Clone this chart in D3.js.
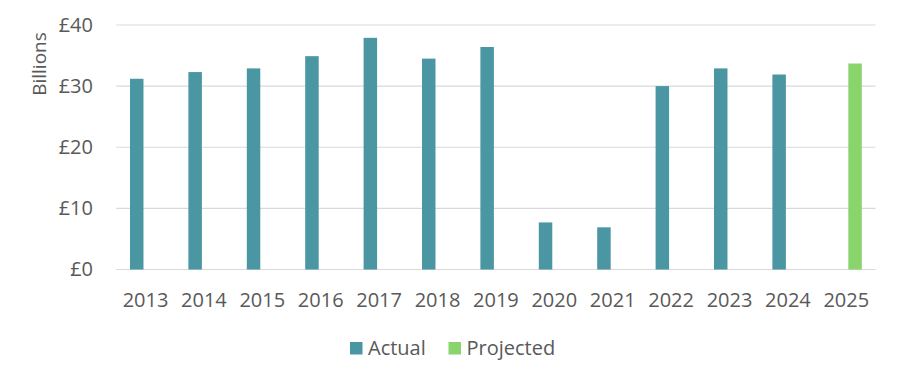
<!DOCTYPE html>
<html><head><meta charset="utf-8">
<script src="https://cdn.jsdelivr.net/npm/d3@7"></script>
<style>body{margin:0;background:#fff}svg{display:block}text{font-family:"Open Sans",sans-serif;fill:#595959}</style>
</head><body><svg id="c" width="900" height="381"></svg>
<script>
const years = ["2013","2014","2015","2016","2017","2018","2019","2020","2021","2022","2023","2024","2025"];
const series = ["Actual","Projected"];
const actual = [31.2,32.3,32.9,34.9,37.9,34.5,36.4,7.7,6.9,30.0,32.9,31.9,null];
const projected = [null,null,null,null,null,null,null,null,null,null,null,null,33.7];
const yTicks = [0,10,20,30,40];
const colors = {Actual:"#4A96A3", Projected:"#8AD46E"};

const svg = d3.select("#c");
const m = {l:116.3, r:24.5, t:25, b:111.5};
const W = 900, H = 381;
const x = d3.scaleBand().domain(years).range([m.l, W - m.r]);
const bw = x.bandwidth();
const xs = d3.scaleBand().domain(series).range([bw/2 - 15.5, bw/2 + 15.5]).paddingInner(0.23);
const y = d3.scaleLinear().domain([0,40]).range([H - m.b, m.t]);

// gridlines
svg.append("g").selectAll("line").data(yTicks).join("line")
  .attr("x1", m.l).attr("x2", W - m.r)
  .attr("y1", d => y(d)).attr("y2", d => y(d))
  .attr("stroke", "#d9d9d9").attr("stroke-width", 1.2);

// y axis labels
const yAxis = d3.axisLeft(y).tickValues(yTicks).tickFormat(d => "£" + d).tickSize(0).tickPadding(0);
const ga = svg.append("g").attr("transform", `translate(93,0)`).call(yAxis);
ga.select(".domain").remove();
ga.selectAll("text").style("font-size","20px").attr("fill","#595959").attr("font-family","Open Sans");

// x axis labels
const xAxis = d3.axisBottom(x).tickSize(0).tickPadding(0);
const gx = svg.append("g").attr("transform", `translate(0,${H - m.b})`).call(xAxis);
gx.select(".domain").remove();
gx.selectAll("text").style("font-size","20px").attr("dy", null).attr("y", 37).attr("fill","#595959").attr("font-family","Open Sans");

// bars
const data = [];
years.forEach((yr,i) => {
  if (actual[i] != null) data.push({yr, s:"Actual", v:actual[i]});
  if (projected[i] != null) data.push({yr, s:"Projected", v:projected[i]});
});
svg.append("g").selectAll("rect").data(data).join("rect")
  .attr("x", d => x(d.yr) + xs(d.s))
  .attr("width", xs.bandwidth())
  .attr("y", d => y(d.v))
  .attr("height", d => y(0) - y(d.v))
  .attr("fill", d => colors[d.s]);

// y label
svg.append("text").attr("transform","translate(46,64) rotate(-90)")
  .attr("text-anchor","middle").style("font-size","19px").text("Billions");

// legend
const leg = [{s:"Actual", x:350}, {s:"Projected", x:448.5}];
const lg = svg.append("g");
lg.selectAll("rect").data(leg).join("rect")
  .attr("x", d => d.x).attr("y", 342).attr("width", 12.5).attr("height", 12.5)
  .attr("fill", d => colors[d.s]);
lg.selectAll("text").data(leg).join("text")
  .attr("x", d => d.x + 18).attr("y", 355).style("font-size","20px").text(d => d.s);
</script></body></html>
